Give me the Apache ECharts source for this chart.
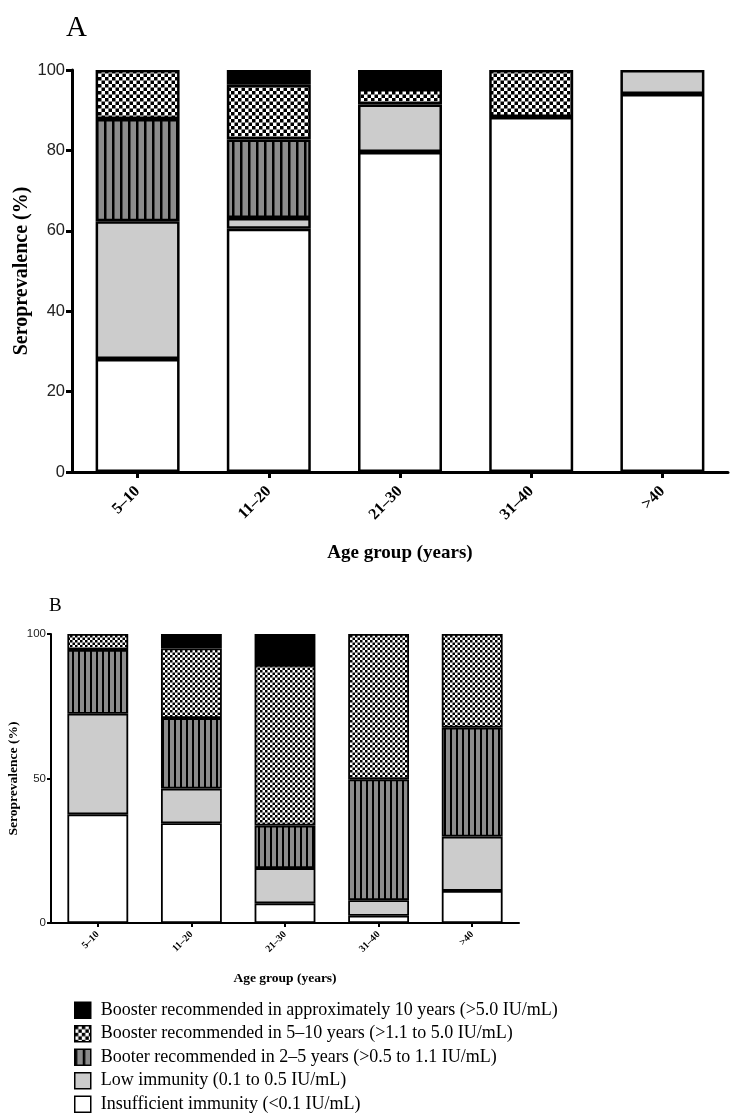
<!DOCTYPE html>
<html>
<head>
<meta charset="utf-8">
<script src="https://cdn.jsdelivr.net/npm/echarts@6/dist/echarts.min.js"></script>
<style>html,body{margin:0;padding:0;background:#fff}#c{width:750px;height:1120px}</style>
</head>
<body>
<div id="c"></div>
<script>
// ---- Data ----
const categories = ['5–10', '11–20', '21–30', '31–40', '>40'];
const seriesNames = [
  'Insufficient immunity (<0.1 IU/mL)',
  'Low immunity (0.1 to 0.5 IU/mL)',
  'Booter recommended in 2–5 years (>0.5 to 1.1 IU/mL)',
  'Booster recommended in 5–10 years (>1.1 to 5.0 IU/mL)',
  'Booster recommended in approximately 10 years (>5.0 IU/mL)'
];
// Panel A
const aInsufficient = [28.1, 60.5, 79.6, 88.3, 94.0];
const aLow          = [34.3, 2.7, 11.8, 0, 6.0];
const aBooster2to5  = [25.4, 19.5, 0, 0, 0];
const aBooster5to10 = [12.2, 13.6, 3.9, 11.7, 0];
const aBooster10    = [0, 3.7, 4.7, 0, 0];
// Panel B
const bInsufficient = [37.6, 34.5, 6.8, 2.5, 11.1];
const bLow          = [34.8, 12.0, 12.2, 5.4, 18.8];
const bBooster2to5  = [22.1, 24.4, 14.7, 41.8, 37.7];
const bBooster5to10 = [5.5, 24.1, 55.6, 50.3, 32.4];
const bBooster10    = [0, 5.0, 10.7, 0, 0];
const yTicksA = [0, 20, 40, 60, 80, 100];
const yTicksB = [0, 50, 100];

// ---- Patterns ----
function checker(cell) {
  const c = document.createElement('canvas');
  c.width = Math.round(cell * 2); c.height = Math.round(cell * 2);
  const g = c.getContext('2d');
  g.fillStyle = '#fff'; g.fillRect(0, 0, c.width, c.height);
  g.fillStyle = '#000';
  g.fillRect(0, 0, cell, cell); g.fillRect(cell, cell, cell, cell);
  return { image: c, repeat: 'repeat' };
}
function stripes(period, lw) {
  const c = document.createElement('canvas');
  c.width = period; c.height = 4;
  const g = c.getContext('2d');
  g.fillStyle = '#8c8c8c'; g.fillRect(0, 0, c.width, c.height);
  g.fillStyle = '#000'; g.fillRect(0, 0, lw, 4);
  return { image: c, repeat: 'repeat' };
}
const fillsA = ['#ffffff', '#cccccc', stripes(8, 2.5), checker(3.5), '#000000'];
const fillsB = ['#ffffff', '#cccccc', stripes(6, 2), checker(2.5), '#000000'];
const dataA = [aInsufficient, aLow, aBooster2to5, aBooster5to10, aBooster10];
const dataB = [bInsufficient, bLow, bBooster2to5, bBooster5to10, bBooster10];
const skipZero = d => d.map(v => (v === 0 ? '-' : v));

const serif = 'Liberation Serif';
const sans = 'Liberation Sans';

const series = [];
dataA.forEach((d, i) => series.push({
  name: seriesNames[i], type: 'bar', stack: 'A', xAxisIndex: 0, yAxisIndex: 0,
  data: skipZero(d), barWidth: '64%', silent: true,
  itemStyle: { color: fillsA[i], borderColor: '#000', borderWidth: 2.5 }
}));
dataB.forEach((d, i) => series.push({
  name: seriesNames[i], type: 'bar', stack: 'B', xAxisIndex: 1, yAxisIndex: 1,
  data: skipZero(d), barWidth: '65%', silent: true,
  itemStyle: { color: fillsB[i], borderColor: '#000', borderWidth: 1.8 }
}));

function yAxis(grid, ticks, fs, lw, nameFs, gap, tickLen) {
  return {
    gridIndex: grid, type: 'value', min: ticks[0], max: ticks[ticks.length - 1],
    interval: ticks[1] - ticks[0],
    name: 'Seroprevalence (%)', nameLocation: 'middle', nameGap: gap, nameMoveOverlap: false,
    nameTextStyle: { fontFamily: serif, fontWeight: 'bold', fontSize: nameFs, color: '#000' },
    axisLine: { show: true, lineStyle: { color: '#000', width: lw } },
    axisTick: { show: true, length: tickLen, lineStyle: { color: '#000', width: lw } },
    axisLabel: { fontFamily: sans, fontSize: fs, color: '#222', margin: tickLen + 1 },
    splitLine: { show: false }
  };
}
function xAxis(grid, fs, lw, nameFs, gap, margin, tickLen) {
  return {
    gridIndex: grid, type: 'category', data: categories,
    name: 'Age group (years)', nameLocation: 'middle', nameGap: gap,
    nameTextStyle: { fontFamily: serif, fontWeight: 'bold', fontSize: nameFs, color: '#000' },
    axisLine: { show: true, lineStyle: { color: '#000', width: lw } },
    axisTick: { show: true, alignWithLabel: true, length: tickLen, lineStyle: { color: '#000', width: lw } },
    axisLabel: { fontFamily: serif, fontWeight: 'bold', fontSize: fs, color: '#000', rotate: 45, margin: margin, interval: 0 },
    splitLine: { show: false }
  };
}

const chart = echarts.init(document.getElementById('c'), null, { renderer: 'canvas' });
chart.setOption({
  animation: false,
  backgroundColor: '#fff',
  title: [
    { text: 'A', left: 61, top: 9, textStyle: { fontFamily: serif, fontWeight: 'normal', fontSize: 29, color: '#000' } },
    { text: 'B', left: 44, top: 592, textStyle: { fontFamily: serif, fontWeight: 'normal', fontSize: 19, color: '#000' } }
  ],
  grid: [
    { left: 72, top: 70, width: 656, height: 402, containLabel: false, outerBoundsMode: 'none' },
    { left: 51, top: 634, width: 468, height: 289, containLabel: false, outerBoundsMode: 'none' }
  ],
  xAxis: [xAxis(0, 16, 3, 19, 72, 17, 6), xAxis(1, 10, 2, 13.5, 49, 10, 4)],
  yAxis: [yAxis(0, yTicksA, 16.5, 3, 20, 40, 6), yAxis(1, yTicksB, 11.5, 2, 13.5, 30, 4)],
  legend: {
    orient: 'vertical', left: 74, top: 1001, height: 125, selectedMode: false,
    icon: 'rect', itemWidth: 16, itemHeight: 16, itemGap: 5,
    padding: 0,
    data: seriesNames.slice().reverse(),
    itemStyle: { borderColor: '#000', borderWidth: 1.5 },
    textStyle: { fontFamily: serif, fontSize: 18, lineHeight: 18.5, color: '#000', padding: [0, 0, 0, 5] }
  },
  series: series
});
</script>
</body>
</html>
